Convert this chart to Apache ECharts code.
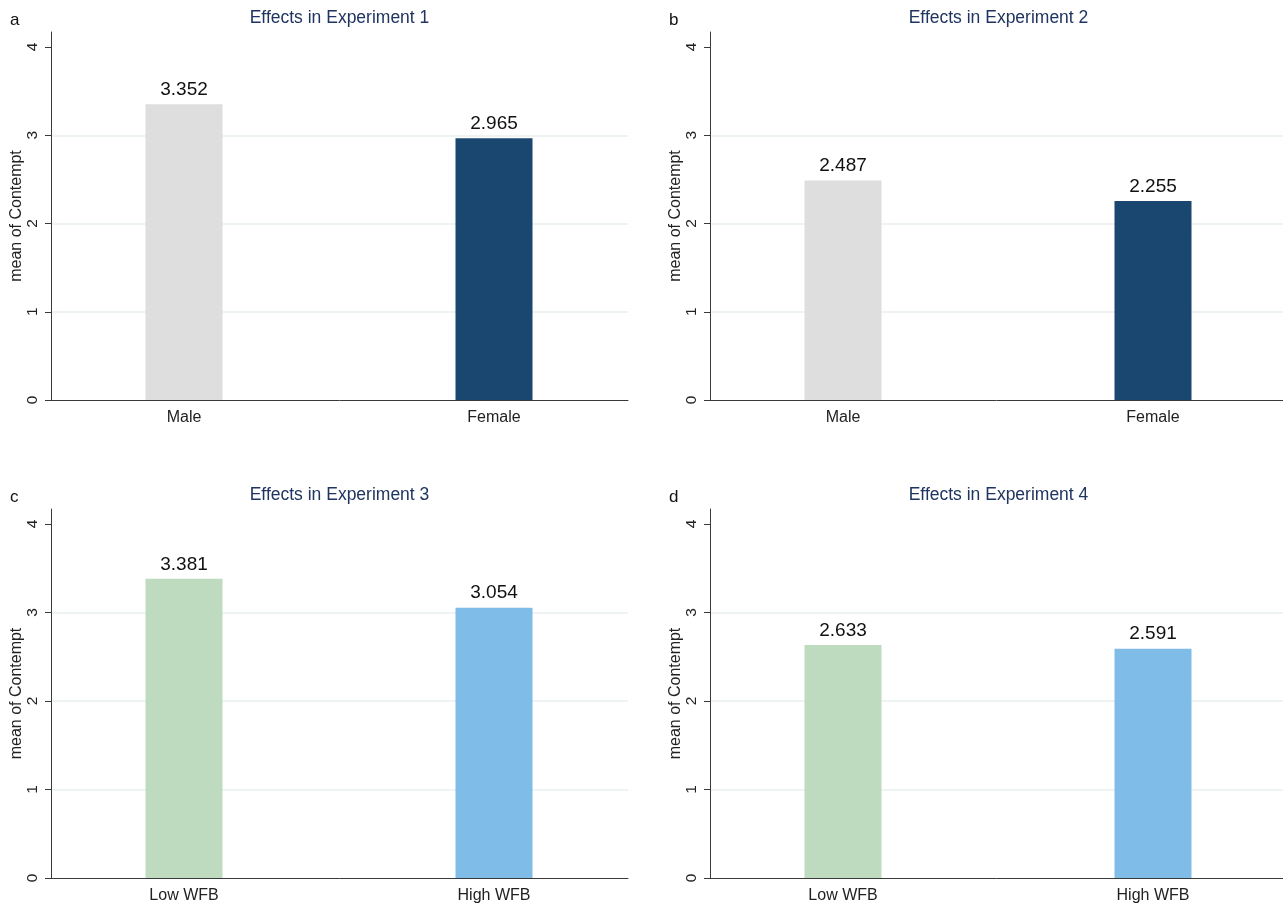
<!DOCTYPE html>
<html>
<head>
<meta charset="utf-8">
<script src="https://cdn.jsdelivr.net/npm/echarts@6/dist/echarts.min.js"></script>
<style>
  html, body { margin: 0; padding: 0; background: #fff; }
  #chart { width: 1283px; height: 904px; }
</style>
</head>
<body>
<div id="chart"></div>
<script>
// ---- data ----
const panelLetters = ['a', 'b', 'c', 'd'];
const panelTitles = ['Effects in Experiment 1', 'Effects in Experiment 2', 'Effects in Experiment 3', 'Effects in Experiment 4'];
const genderCategories = ['Male', 'Female'];
const wfbCategories = ['Low WFB', 'High WFB'];
const exp1Values = [3.352, 2.965];
const exp2Values = [2.487, 2.255];
const exp3Values = [3.381, 3.054];
const exp4Values = [2.633, 2.591];
const yTickValues = [0, 1, 2, 3, 4];
const yAxisName = 'mean of Contempt';

// ---- styles ----
const FONT = 'Arial, "Liberation Sans", Helvetica, sans-serif';
const genderColors = ['#dedede', '#1a476f'];
const wfbColors = ['#bfdbbf', '#7fbde8'];
const gridColor = '#e8eff0';
const axisColor = '#3a3a3a';
const Y_MAX = 4.17;

const panels = [
  { cats: genderCategories, vals: exp1Values, colors: genderColors, left: 51, top: 32, height: 368 },
  { cats: genderCategories, vals: exp2Values, colors: genderColors, left: 710, top: 32, height: 368 },
  { cats: wfbCategories, vals: exp3Values, colors: wfbColors, left: 51, top: 509, height: 369 },
  { cats: wfbCategories, vals: exp4Values, colors: wfbColors, left: 710, top: 509, height: 369 }
];
const FRAME_W = 577;
const BAR_GRID_OFFSET = 133;   // first category sits 133px right of the y axis
const BAR_GRID_W = 310;        // distance between the two category centres

const grid = [], xAxis = [], yAxis = [], series = [], graphic = [];
panels.forEach((p, i) => {
  const fg = grid.length;
  grid.push({ left: p.left, top: p.top, width: FRAME_W, height: p.height, containLabel: false });
  const bg = grid.length;
  grid.push({ left: p.left + BAR_GRID_OFFSET, top: p.top, width: BAR_GRID_W, height: p.height, containLabel: false });

  // frame axes
  xAxis.push({
    gridIndex: fg, type: 'value', min: 0, max: 1, position: 'bottom',
    axisLine: { show: true, onZero: false, lineStyle: { color: axisColor, width: 1 } },
    axisTick: { show: false }, axisLabel: { show: false }, splitLine: { show: false }
  });
  yAxis.push({
    gridIndex: fg, type: 'value', min: 0, max: Y_MAX, interval: 1,
    name: yAxisName, nameLocation: 'middle', nameGap: 25, nameRotate: 90,
    nameTextStyle: { fontFamily: FONT, fontSize: 16, color: '#222' },
    axisLine: { show: true, lineStyle: { color: axisColor, width: 1 } },
    axisTick: { show: true, length: 6, customValues: yTickValues, lineStyle: { color: axisColor } },
    axisLabel: { show: true, rotate: 90, margin: 10, customValues: yTickValues,
      fontFamily: FONT, fontSize: 15.5, color: '#222' },
    splitLine: { show: true, lineStyle: { width: 1.5,
      color: ['rgba(0,0,0,0)', gridColor, gridColor, gridColor, 'rgba(0,0,0,0)', 'rgba(0,0,0,0)'] } }
  });

  // bar axes
  const bx = xAxis.length;
  xAxis.push({
    gridIndex: bg, type: 'category', data: p.cats, boundaryGap: false,
    axisLine: { show: false }, axisTick: { show: false },
    axisLabel: { show: true, margin: 10, fontFamily: FONT, fontSize: 16, color: '#222' }
  });
  const by = yAxis.length;
  yAxis.push({ gridIndex: bg, type: 'value', min: 0, max: Y_MAX, show: false, splitLine: { show: false } });

  series.push({
    type: 'bar', xAxisIndex: bx, yAxisIndex: by, barWidth: 77, clip: false,
    data: p.vals.map((v, k) => ({ value: v, itemStyle: { color: p.colors[k] } })),
    label: { show: true, position: 'top', distance: 5, fontFamily: FONT, fontSize: 19, color: '#111',
      formatter: (q) => q.value.toFixed(3) },
    emphasis: { disabled: true }, animation: false
  });

  graphic.push({
    type: 'text', x: p.left + FRAME_W / 2, y: p.top - 14,
    style: { text: panelTitles[i], fill: '#1f3461', font: '17.5px ' + FONT, textAlign: 'center', textVerticalAlign: 'middle' }
  });
  graphic.push({
    type: 'text', x: p.left - 41, y: p.top - 12,
    style: { text: panelLetters[i], fill: '#111', font: '17px ' + FONT, textAlign: 'left', textVerticalAlign: 'middle' }
  });
});

const chart = echarts.init(document.getElementById('chart'), null, { renderer: 'canvas' });
chart.setOption({
  backgroundColor: '#ffffff',
  animation: false,
  grid, xAxis, yAxis, series, graphic
});
</script>
</body>
</html>
